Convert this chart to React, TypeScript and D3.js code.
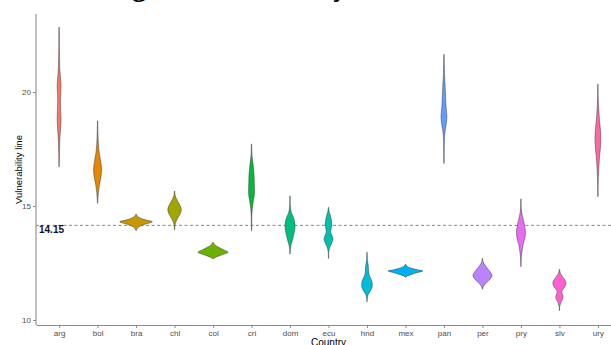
import { useEffect, useRef } from 'react';
import * as d3 from 'd3';

// countries on the x axis, in plot order
const countries = ['arg', 'bol', 'bra', 'chl', 'col', 'cri', 'dom', 'ecu', 'hnd', 'mex', 'pan', 'per', 'pry', 'slv', 'ury'];

// ggplot default hue palette for 15 groups
const fillColors = ['#F8766D', '#E58700', '#C99800', '#A3A500', '#6BB100', '#00BA38', '#00BF7D', '#00C0AF', '#00BCD8', '#00B0F6', '#619CFF', '#B983FF', '#E76BF3', '#FD61D1', '#FF67A4'];

const yTicks = [10, 15, 20];
const thresholdValue = 14.15;

// violin outlines: [vulnerability line value, relative density (1 = widest violin)]
const argProfile = [[22.84, 0.01], [22.0, 0.015], [21.55, 0.025], [21.0, 0.045], [20.6, 0.085], [20.3, 0.11], [19.95, 0.095], [19.6, 0.08], [19.2, 0.095], [18.8, 0.11], [18.4, 0.085], [18.0, 0.05], [17.6, 0.03], [17.3, 0.02], [16.72, 0.01]];
const bolProfile = [[18.73, 0.01], [18.2, 0.02], [17.7, 0.05], [17.3, 0.1], [17.0, 0.17], [16.6, 0.23], [16.2, 0.18], [15.9, 0.1], [15.6, 0.05], [15.3, 0.02], [15.12, 0.01]];
const braProfile = [[14.64, 0.01], [14.55, 0.08], [14.45, 0.3], [14.38, 0.6], [14.31, 0.94], [14.22, 0.6], [14.12, 0.25], [14.02, 0.07], [13.92, 0.01]];
const chlProfile = [[15.66, 0.01], [15.45, 0.04], [15.25, 0.15], [15.05, 0.3], [14.85, 0.39], [14.65, 0.32], [14.45, 0.17], [14.25, 0.05], [14.1, 0.02], [13.95, 0.01]];
const colProfile = [[13.41, 0.01], [13.3, 0.1], [13.2, 0.3], [13.08, 0.6], [12.97, 0.87], [12.88, 0.6], [12.8, 0.3], [12.73, 0.1], [12.68, 0.01]];
const criProfile = [[17.72, 0.01], [17.2, 0.03], [16.9, 0.08], [16.6, 0.12], [16.3, 0.15], [16.0, 0.16], [15.7, 0.17], [15.45, 0.16], [15.2, 0.1], [14.9, 0.05], [14.6, 0.02], [14.2, 0.01], [13.92, 0.01]];
const domProfile = [[15.44, 0.01], [15.0, 0.02], [14.7, 0.08], [14.5, 0.2], [14.3, 0.27], [14.1, 0.29], [13.9, 0.26], [13.7, 0.2], [13.5, 0.14], [13.3, 0.06], [13.1, 0.02], [12.89, 0.01]];
const ecuProfile = [[14.94, 0.01], [14.75, 0.04], [14.55, 0.12], [14.35, 0.17], [14.17, 0.19], [14.0, 0.15], [13.85, 0.13], [13.7, 0.2], [13.55, 0.26], [13.4, 0.2], [13.2, 0.08], [13.0, 0.02], [12.7, 0.01]];
const hndProfile = [[12.97, 0.01], [12.6, 0.03], [12.4, 0.07], [12.2, 0.09], [12.0, 0.12], [11.85, 0.2], [11.7, 0.28], [11.54, 0.31], [11.4, 0.28], [11.25, 0.18], [11.1, 0.06], [10.95, 0.02], [10.8, 0.01]];
const mexProfile = [[12.44, 0.01], [12.35, 0.1], [12.27, 0.35], [12.2, 0.7], [12.15, 1.0], [12.08, 0.7], [12.0, 0.35], [11.93, 0.1], [11.87, 0.01]];
const panProfile = [[21.65, 0.01], [21.2, 0.02], [20.8, 0.03], [20.5, 0.05], [20.2, 0.07], [19.9, 0.09], [19.5, 0.11], [19.2, 0.14], [18.9, 0.17], [18.6, 0.13], [18.3, 0.07], [18.0, 0.03], [17.5, 0.015], [16.87, 0.01]];
const perProfile = [[12.71, 0.01], [12.55, 0.04], [12.4, 0.15], [12.2, 0.35], [12.05, 0.5], [11.94, 0.55], [11.8, 0.45], [11.65, 0.25], [11.5, 0.08], [11.4, 0.02], [11.35, 0.01]];
const pryProfile = [[15.31, 0.01], [14.9, 0.02], [14.6, 0.07], [14.35, 0.15], [14.1, 0.22], [13.8, 0.26], [13.5, 0.2], [13.3, 0.12], [13.05, 0.07], [12.8, 0.03], [12.5, 0.01], [12.34, 0.01]];
const slvProfile = [[12.22, 0.01], [12.05, 0.05], [11.9, 0.18], [11.75, 0.32], [11.61, 0.38], [11.45, 0.3], [11.3, 0.16], [11.2, 0.14], [11.05, 0.2], [10.95, 0.2], [10.8, 0.1], [10.6, 0.02], [10.41, 0.01]];
const uryProfile = [[20.34, 0.01], [19.7, 0.02], [19.2, 0.05], [18.7, 0.1], [18.3, 0.15], [17.97, 0.17], [17.6, 0.15], [17.2, 0.1], [16.8, 0.06], [16.3, 0.03], [15.9, 0.015], [15.41, 0.01]];

const profiles = [argProfile, bolProfile, braProfile, chlProfile, colProfile, criProfile, domProfile, ecuProfile, hndProfile, mexProfile, panProfile, perProfile, pryProfile, slvProfile, uryProfile];

const WIDTH = 611;
const HEIGHT = 345;
const panel = { left: 36, right: 621, top: 14, bottom: 325 };

export default function App() {
  const svgRef = useRef<SVGSVGElement>(null);

  useEffect(() => {
    const svg = d3.select(svgRef.current);
    svg.selectAll('*').remove();

    // ggplot discrete axis: 0.6 units of padding on each side
    const x = d3
      .scalePoint()
      .domain(countries)
      .range([panel.left, panel.right])
      .padding(0.6);
    const y = d3.scaleLinear().domain([9.78, 23.42]).range([panel.bottom, panel.top]);
    const maxHalf = x.step() * 0.45;

    // title sits above the view, only the descenders show
    svg
      .append('text')
      .attr('x', 27)
      .attr('y', -4.5)
      .attr('font-family', 'Open Sans')
      .attr('font-size', 25.5)
      .attr('fill', '#000')
      .text('Percentage of Vulnerability');

    // threshold line
    svg
      .append('line')
      .attr('x1', panel.left)
      .attr('x2', WIDTH)
      .attr('y1', y(thresholdValue))
      .attr('y2', y(thresholdValue))
      .attr('stroke', '#555')
      .attr('stroke-width', 0.7)
      .attr('stroke-dasharray', '3,2.5');

    svg
      .append('text')
      .attr('x', 39)
      .attr('y', y(thresholdValue) + 7.5)
      .attr('font-family', 'Liberation Sans, Arial, sans-serif')
      .attr('font-size', 10)
      .attr('font-weight', 'bold')
      .attr('fill', '#10102a')
      .text(thresholdValue.toFixed(2));

    const area = d3
      .area<number[]>()
      .curve(d3.curveCatmullRom.alpha(0.5));

    const violins = svg.append('g').attr('class', 'violins');
    countries.forEach((c, i) => {
      const cx = x(c) as number;
      area
        .y((d) => y(d[0]))
        .x0((d) => cx - d[1] * maxHalf)
        .x1((d) => cx + d[1] * maxHalf);
      violins
        .append('path')
        .attr('d', area(profiles[i]) as string)
        .attr('fill', fillColors[i])
        .attr('stroke', '#3a3a3a')
        .attr('stroke-width', 0.5);
    });

    // y axis
    const yAxis = svg
      .append('g')
      .attr('transform', `translate(${panel.left},0)`)
      .call(d3.axisLeft(y).tickValues(yTicks).tickSize(3).tickPadding(2).tickSizeOuter(0));
    yAxis.select('.domain').attr('stroke', '#8a8a8a').attr('stroke-width', 1.1).attr('d', `M0,${panel.bottom}V${panel.top}`);
    yAxis.selectAll('.tick line').attr('stroke', '#8a8a8a');
    yAxis
      .selectAll('.tick text')
      .attr('fill', '#4D4D4D')
      .attr('font-size', 8)
      .attr('font-family', 'Liberation Sans, Arial, sans-serif');

    // x axis
    const xAxis = svg
      .append('g')
      .attr('transform', `translate(0,${panel.bottom})`)
      .call(d3.axisBottom(x).tickSize(3).tickPadding(2).tickSizeOuter(0));
    xAxis.select('.domain').attr('stroke', '#8a8a8a').attr('stroke-width', 1.1);
    xAxis.selectAll('.tick line').attr('stroke', '#8a8a8a');
    xAxis
      .selectAll('.tick text')
      .attr('fill', '#4D4D4D')
      .attr('font-size', 8)
      .attr('font-family', 'Liberation Sans, Arial, sans-serif');

    // axis titles
    svg
      .append('text')
      .attr('x', (panel.left + panel.right) / 2)
      .attr('y', 345.5)
      .attr('text-anchor', 'middle')
      .attr('font-family', 'Liberation Sans, Arial, sans-serif')
      .attr('font-size', 10)
      .attr('fill', '#000')
      .text('Country');

    svg
      .append('text')
      .attr('transform', `translate(22,${(panel.top + panel.bottom) / 2}) rotate(-90)`)
      .attr('text-anchor', 'middle')
      .attr('font-family', 'Liberation Sans, Arial, sans-serif')
      .attr('font-size', 9.5)
      .attr('fill', '#000')
      .text('Vulnerability line');
  }, []);

  return (
    <svg
      ref={svgRef}
      width={WIDTH}
      height={HEIGHT}
      style={{ position: 'absolute', left: 0, top: 0, background: '#fff' }}
    />
  );
}
